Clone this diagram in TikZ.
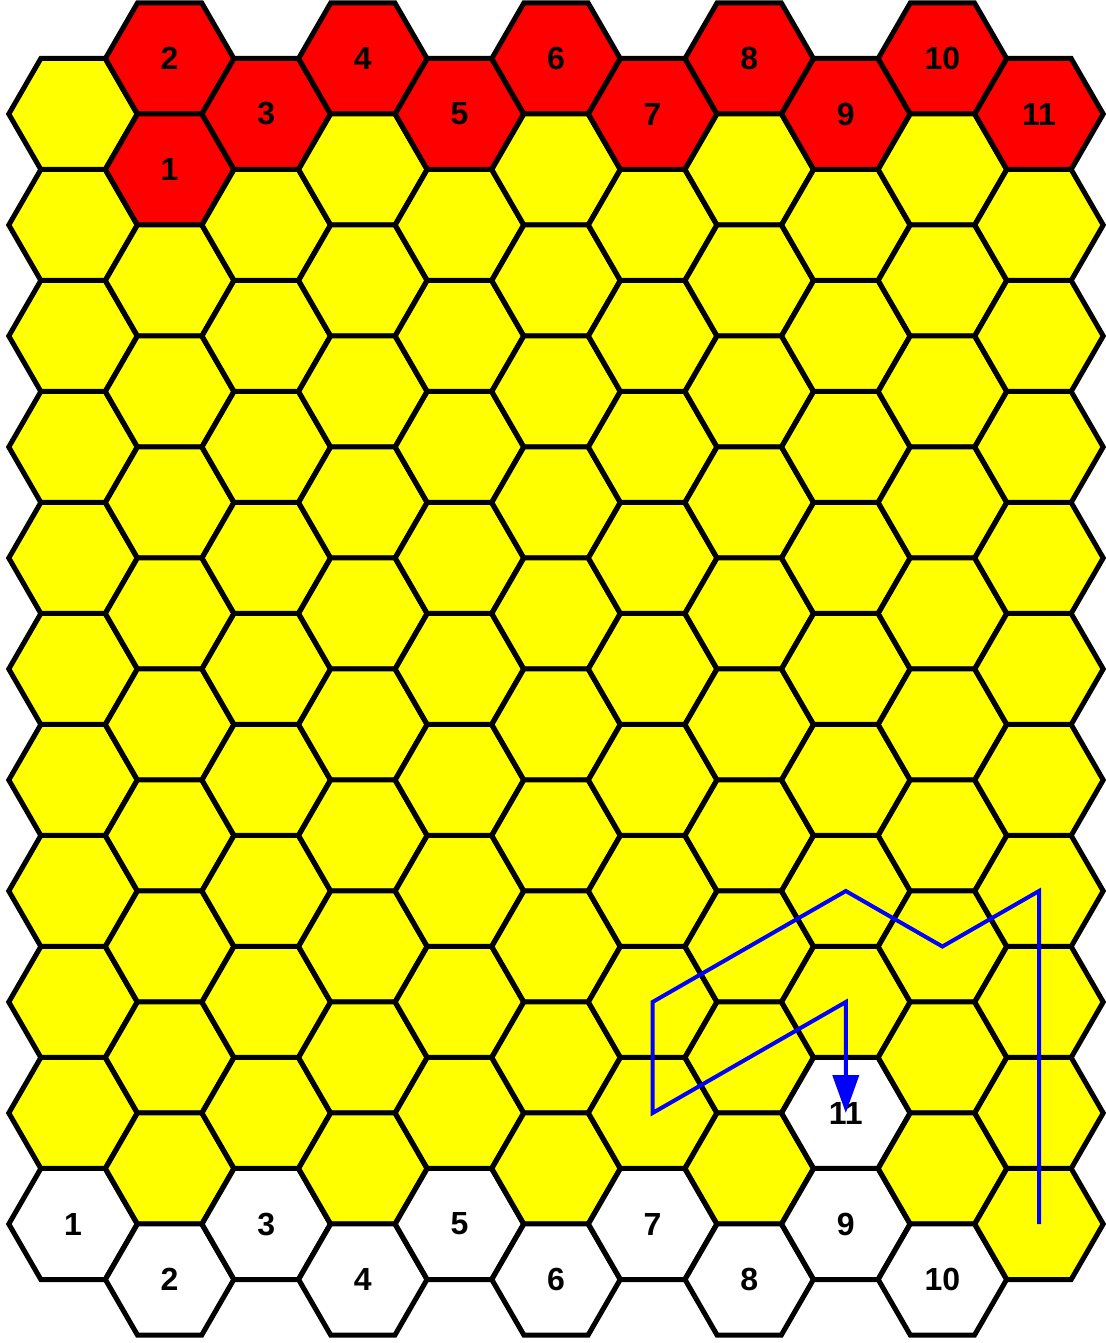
\documentclass[tikz,border=0pt]{standalone}
\usepackage{fontspec}
\setmainfont{Liberation Sans}
\usepackage{xcolor}
\definecolor{cellred}{RGB}{255,0,0}
\definecolor{cellyellow}{RGB}{255,255,0}
\definecolor{routeblue}{RGB}{0,0,255}
\usetikzlibrary{arrows.meta, shapes.geometric}

\begin{document}
\begin{tikzpicture}[
  x=0.5pt, y=-0.5pt,
  hexcell/.style={regular polygon, regular polygon sides=6, minimum size=64.2pt, inner sep=0pt, draw=black, line width=2.5pt, font=\fontsize{16}{19}\selectfont\bfseries},
  route/.style={draw=routeblue, line width=2pt, -{Triangle[length=19pt, width=13pt]}}
]
  \useasboundingbox (0,0) rectangle (1106,1343);
  % hex grid, column by column
  \foreach \c in {0,...,10}{
    \pgfmathtruncatemacro\lastrow{isodd(\c) ? 11 : 10}
    \pgfmathsetmacro\yoff{isodd(\c) ? 58.5 : 114}
    \foreach \r in {0,...,\lastrow}{
      \def\cellfill{cellyellow}\def\celltext{}
      \ifnum\r=0 \ifnum\c>0 \def\cellfill{cellred}\pgfmathtruncatemacro\celltext{\c+1}\fi\fi
      \ifnum\c=1 \ifnum\r=1 \def\cellfill{cellred}\def\celltext{1}\fi\fi
      \ifnum\r=\lastrow \ifnum\c<10 \def\cellfill{white}\pgfmathtruncatemacro\celltext{\c+1}\fi\fi
      \ifnum\c=8 \ifnum\r=9 \def\cellfill{white}\def\celltext{11}\fi\fi
      \node[hexcell, fill=\cellfill] (h-\c-\r) at ({73+96.6*\c},{\yoff+111*\r}) {\celltext};
    }
  }
  % route
  \draw[route] (h-10-10.center) -- (h-10-7.center) -- (h-9-8.center) -- (h-8-7.center)
    -- (h-6-8.center) -- (h-6-9.center) -- (h-8-8.center) -- (h-8-9.center);
\end{tikzpicture}
\end{document}
